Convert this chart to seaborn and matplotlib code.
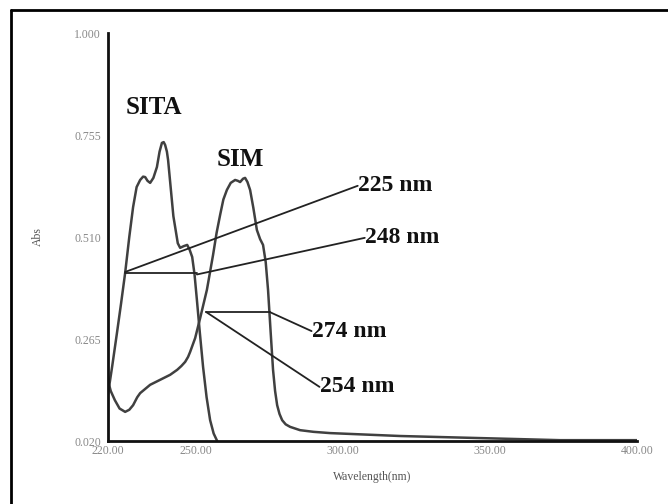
import seaborn as sns
import matplotlib.pyplot as plt
import pandas as pd
from matplotlib.lines import Line2D

# -------------------------
# Data
# -------------------------

sita_nm = [220.0, 221.5, 223.1, 224.5, 225.9, 227.3, 228.6, 229.8, 231.0, 232.0,
           232.7, 233.5, 234.4, 235.5, 236.7, 237.6, 238.4, 239.0, 239.5, 240.1,
           240.5, 241.5, 242.3, 242.9, 243.8, 244.6, 245.8, 247.0, 247.8, 248.7,
           249.5, 250.3, 251.3, 252.4, 253.6, 254.8, 256.0, 257.2]
sita_abs = [0.130, 0.200, 0.279, 0.350, 0.424, 0.510, 0.582, 0.630, 0.647, 0.655,
            0.654, 0.645, 0.640, 0.652, 0.678, 0.715, 0.736, 0.738, 0.731, 0.715,
            0.695, 0.620, 0.560, 0.534, 0.495, 0.484, 0.488, 0.491, 0.480, 0.462,
            0.420, 0.359, 0.280, 0.198, 0.125, 0.070, 0.038, 0.020]

sim_nm = [220.0, 221.0, 222.4, 224.0, 225.9, 227.3, 228.6, 230.0, 231.0, 234.4,
          237.8, 241.2, 243.6, 245.0, 246.3, 247.3, 248.0, 249.7, 251.4, 253.7,
          255.8, 257.0, 258.2, 259.3, 260.5, 261.8, 263.3, 264.2, 265.0, 266.0,
          266.7, 267.5, 268.4, 269.5, 270.7, 271.8, 272.8, 273.7, 274.5, 275.4,
          276.2, 276.9, 277.6, 278.4, 279.3, 280.5, 282.0, 285.4, 290.0, 295.6,
          319.4, 346.6, 373.8, 400.0]
sim_abs = [0.167, 0.140, 0.118, 0.098, 0.090, 0.095, 0.106, 0.125, 0.135, 0.155,
           0.167, 0.179, 0.191, 0.200, 0.210, 0.222, 0.234, 0.267, 0.315, 0.383,
           0.467, 0.520, 0.563, 0.600, 0.623, 0.640, 0.647, 0.645, 0.642, 0.650,
           0.652, 0.642, 0.623, 0.580, 0.527, 0.505, 0.491, 0.450, 0.383, 0.280,
           0.191, 0.140, 0.106, 0.085, 0.070, 0.060, 0.054, 0.046, 0.042, 0.039,
           0.032, 0.027, 0.022, 0.022]

x_ticks = [220, 250, 300, 350, 400]
y_ticks = [0.020, 0.265, 0.510, 0.755, 1.000]

# annotation leader lines: start point on a curve, end point at the label
ann_start_nm = [225.9, 250.3, 275.0, 253.4]
ann_start_abs = [0.426, 0.420, 0.330, 0.330]
ann_end_nm = [305.0, 307.4, 289.3, 292.0]
ann_end_abs = [0.633, 0.508, 0.284, 0.150]
ann_text = ["225 nm", "248 nm", "274 nm", "254 nm"]

# horizontal links between the annotated points
link_left = [225.9, 253.4]
link_right = [250.3, 275.0]
link_abs = [0.424, 0.330]

sita = pd.DataFrame({"Wavelength": sita_nm, "Abs": sita_abs})
sim = pd.DataFrame({"Wavelength": sim_nm, "Abs": sim_abs})

# -------------------------
# Styling
# -------------------------

sns.set_style("white")
plt.rcParams["font.family"] = ["Liberation Serif", "DejaVu Serif"]

fig = plt.figure(figsize=(6.68, 5.04), dpi=100)
ax = fig.add_axes([0.1614, 0.125, 0.7922, 0.8095])

line_color = "#404040"
for df in (sita, sim):
    sns.lineplot(data=df, x="Wavelength", y="Abs", ax=ax, color=line_color,
                 linewidth=1.8, sort=False, solid_joinstyle="round",
                 solid_capstyle="round")

for l, r, a in zip(link_left, link_right, link_abs):
    ax.plot([l, r], [a, a], color="#222222", linewidth=1.3)

for sx, sy, ex, ey, t in zip(ann_start_nm, ann_start_abs, ann_end_nm, ann_end_abs, ann_text):
    ax.plot([sx, ex], [sy, ey], color="#222222", linewidth=1.3)
    ax.text(ex + 0.2, ey, t, fontsize=17, fontweight="bold", va="center", ha="left",
            color="#111111")

ax.text(235.5, 0.822, "SITA", fontsize=18, fontweight="bold", ha="center",
        va="center", color="#111111")
ax.text(265.0, 0.695, "SIM", fontsize=18, fontweight="bold", ha="center",
        va="center", color="#111111")

ax.set_xlim(220, 400)
ax.set_ylim(0.02, 1.0)
ax.set_xticks(x_ticks)
ax.set_xticklabels([f"{v:.2f}" for v in x_ticks])
ax.set_yticks(y_ticks)
ax.set_yticklabels([f"{v:.3f}" for v in y_ticks])
ax.tick_params(axis="x", direction="in", length=5, width=1.5, colors="#111111",
               labelcolor="#888888", labelsize=8.5, pad=3)
ax.tick_params(axis="y", direction="out", length=5, width=1.5, colors="#111111",
               labelcolor="#888888", labelsize=8.5, pad=0)

ax.set_xlabel("Wavelength(nm)", fontsize=8.5, color="#555555", labelpad=10)
ax.set_ylabel("Abs", fontsize=8.5, color="#555555", labelpad=22)

for side in ["top", "right"]:
    ax.spines[side].set_visible(False)
for side in ["left", "bottom"]:
    ax.spines[side].set_linewidth(2)
    ax.spines[side].set_color("#111111")

# frame around the picture (top and left edges only)
fig.add_artist(Line2D([11 / 668, 1.0], [1 - 10 / 504, 1 - 10 / 504],
                      transform=fig.transFigure, color="black", linewidth=2))
fig.add_artist(Line2D([11 / 668, 11 / 668], [0.0, 1 - 10 / 504],
                      transform=fig.transFigure, color="black", linewidth=2))

# -------------------------
# Save Chart
# -------------------------

plt.savefig("out.png", dpi=100)
plt.close()
